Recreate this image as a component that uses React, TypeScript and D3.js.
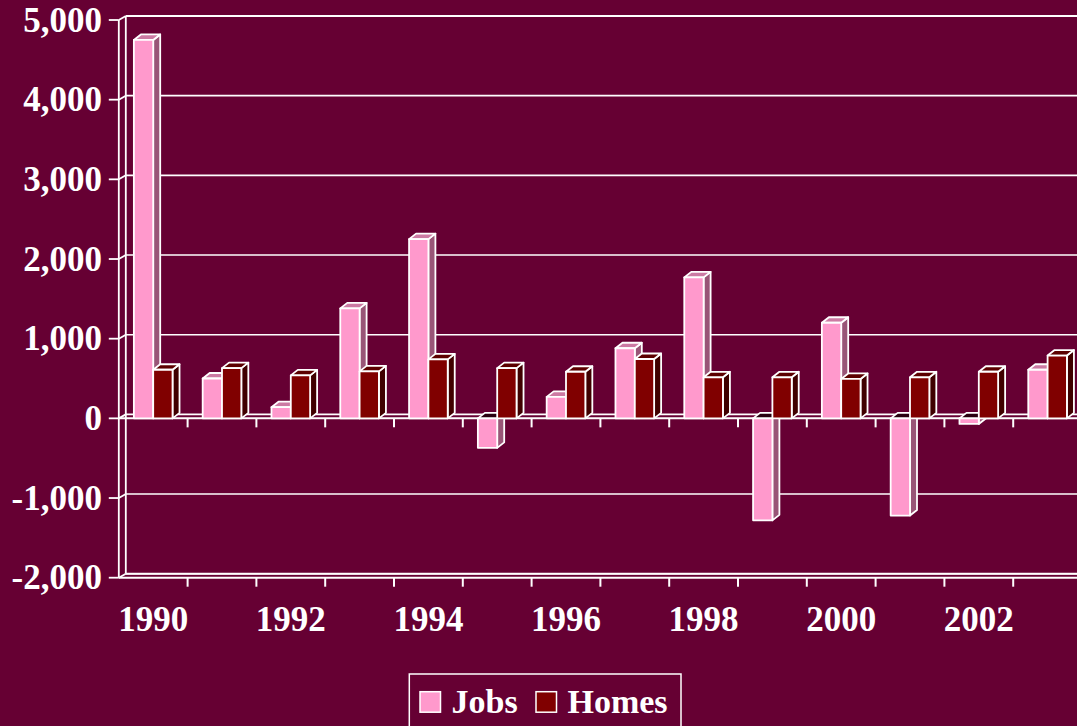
import React from 'react';
import * as d3 from 'd3';

const years = [1990, 1991, 1992, 1993, 1994, 1995, 1996, 1997, 1998, 1999, 2000, 2001, 2002, 2003];
const jobs = [4750, 500, 140, 1380, 2250, -370, 270, 880, 1770, -1280, 1200, -1220, -70, 610];
const homes = [610, 630, 540, 590, 740, 630, 585, 745, 515, 515, 495, 515, 585, 788];
const yTicks = [5000, 4000, 3000, 2000, 1000, 0, -1000, -2000];
const xLabels = [1990, 1992, 1994, 1996, 1998, 2000, 2002];
const seriesNames = ['Jobs', 'Homes'];

const W = 1077;
const H = 726;
const BG = '#660033';
const FONT = '"Liberation Serif", "Times New Roman", serif';

// face colours per series: front, side, top
const faces: Record<string, { front: string; side: string; top: string }> = {
  Jobs: { front: '#ff99cc', side: '#995577', top: '#cc7aa3' },
  Homes: { front: '#800000', side: '#400000', top: '#5c0000' },
};

export default function App() {
  const x0 = 118.8;
  const step = 68.8;
  const x = d3.scaleBand<number>().domain(years).range([x0, x0 + step * years.length]);
  const xs = d3.scaleBand<string>().domain(seriesNames).range([0, x.bandwidth()]).paddingOuter(0.78);
  const y = d3.scaleLinear().domain([-2000, 5000]).range([577.7, 20]);

  // depth offsets for walls and bars
  const wdx = 7, wdy = -4;
  const bdx = 7, bdy = -5.5;
  const xRight = W + 20;
  const fmt = (v: number) => d3.format(',')(v).replace('\u2212', '-');

  const bar = (name: string, year: number, v: number) => {
    const c = faces[name];
    const xl = (x(year) || 0) + (xs(name) || 0);
    const xr = xl + xs.bandwidth();
    const y0 = y(0);
    const yv = y(v);
    const top = Math.min(y0, yv);
    const bot = Math.max(y0, yv);
    const side = `M${xr},${top}L${xr + bdx},${top + bdy}L${xr + bdx},${bot + bdy}L${xr},${bot}Z`;
    const topFace = `M${xl},${top}L${xl + bdx},${top + bdy}L${xr + bdx},${top + bdy}L${xr},${top}Z`;
    return (
      <g key={name + year} stroke="#fff" strokeWidth={1.8} strokeLinejoin="round">
        <path d={side} fill={c.side} />
        <path d={topFace} fill={v < 0 ? '#2a0010' : c.top} />
        <rect x={xl} y={top} width={xr - xl} height={bot - top} fill={c.front} />
      </g>
    );
  };

  return (
    <svg width={W} height={H} style={{ position: 'absolute', left: 0, top: 0 }} fontFamily={FONT}>
      <rect width={W} height={H} fill={BG} />

      {/* back wall gridlines */}
      {yTicks.map(t => (
        <line key={'g' + t} x1={x0 + wdx} x2={xRight} y1={y(t) + wdy} y2={y(t) + wdy}
          stroke="#fff" strokeWidth={t === 5000 ? 2 : 1.6} />
      ))}

      {/* left wall */}
      <g stroke="#fff" strokeWidth={1.8}>
        <line x1={x0} x2={x0} y1={y(5000)} y2={y(-2000)} />
        <line x1={x0 + wdx} x2={x0 + wdx} y1={y(5000) + wdy} y2={y(-2000) + wdy} />
        {yTicks.map(t => (
          <g key={'w' + t}>
            <line x1={x0 - 10} x2={x0} y1={y(t)} y2={y(t)} />
            <line x1={x0} x2={x0 + wdx} y1={y(t)} y2={y(t) + wdy} />
          </g>
        ))}
      </g>

      {/* floor */}
      <g stroke="#fff" strokeWidth={2}>
        <line x1={x0} x2={xRight} y1={y(-2000)} y2={y(-2000)} />
        <line x1={x0 + wdx} x2={xRight} y1={y(-2000) + wdy} y2={y(-2000) + wdy} />
        <line x1={x0} x2={xRight} y1={y(0)} y2={y(0)} />
        {years.map(yr => (
          <g key={'t' + yr}>
            <line x1={(x(yr) || 0) + step} x2={(x(yr) || 0) + step} y1={y(0)} y2={y(0) + 9} />
            <line x1={(x(yr) || 0) + step} x2={(x(yr) || 0) + step} y1={y(-2000)} y2={y(-2000) + 9} />
          </g>
        ))}
      </g>

      {/* bars */}
      {years.map((yr, i) => (
        <g key={'b' + yr}>
          {bar('Jobs', yr, jobs[i])}
          {bar('Homes', yr, homes[i])}
        </g>
      ))}

      {/* y labels */}
      {yTicks.map(t => (
        <text key={'l' + t} x={102} y={y(t) + 11.5} textAnchor="end" fill="#fff"
          fontWeight="bold" fontSize={35}>{fmt(t)}</text>
      ))}

      {/* x labels */}
      {xLabels.map(yr => (
        <text key={'x' + yr} x={(x(yr) || 0) + x.bandwidth() / 2} y={630.5} textAnchor="middle"
          fill="#fff" fontWeight="bold" fontSize={35}>{yr}</text>
      ))}

      {/* legend */}
      <rect x={409.3} y={674} width={271.7} height={80} fill="none" stroke="#fff" strokeWidth={1.5} />
      {seriesNames.map((s, i) => {
        const lx = i === 0 ? 420 : 536;
        return (
          <g key={'lg' + s}>
            <rect x={lx} y={691.7} width={20.5} height={20.5} fill={faces[s].front} stroke="#fff" strokeWidth={1.5} />
            <text x={lx + 31.5} y={713.3} fill="#fff" fontWeight="bold" fontSize={34}>{s}</text>
          </g>
        );
      })}
    </svg>
  );
}
